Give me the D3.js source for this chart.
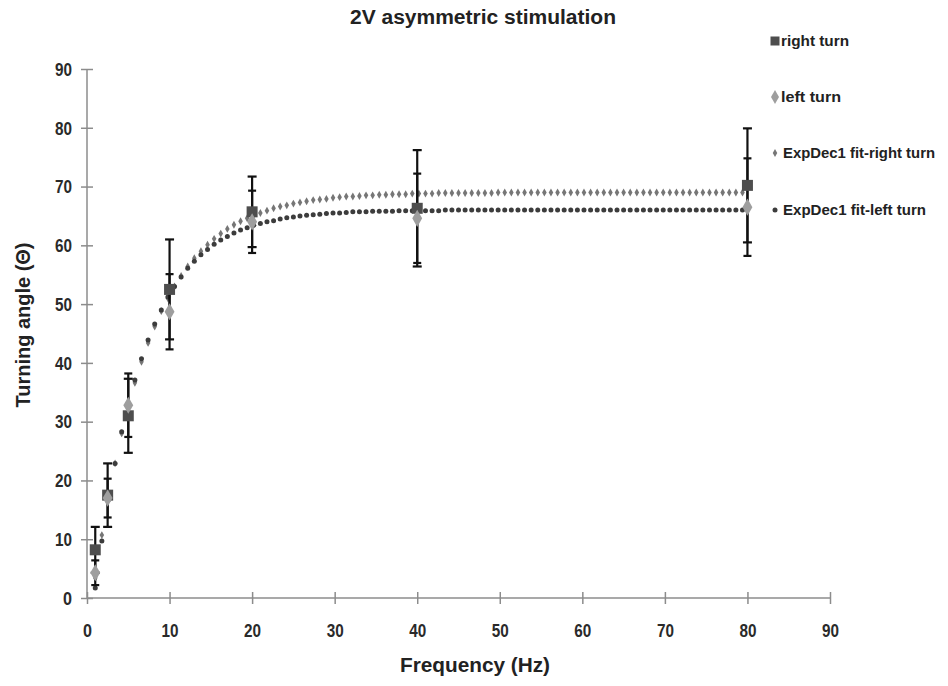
<html>
<head>
  <meta charset="utf-8">
  <script src="https://d3js.org/d3.v7.min.js"></script>
  <style>
    body { margin: 0; background: #fff; }
    text { font-family: "Liberation Sans", "Arial", sans-serif; font-weight: bold; fill: #222; }
    .axis path, .axis line { stroke: #8c8c8c; stroke-width: 1.5; }
    .axis text { font-size: 18px; fill: #2a2a2a; }
  </style>
</head>
<body>
<div id="chart"></div>
<script>
// measured points
var freq = [1, 2.5, 5, 10, 20, 40, 80];
var rightTurn = [8.2, 17.5, 31.0, 52.5, 65.7, 66.3, 70.2];
var rightErr  = [3.9, 5.4, 6.3, 8.5, 6.0, 9.9, 9.7];
var leftTurn  = [4.3, 17.0, 32.8, 48.7, 64.0, 64.6, 66.5];
var leftErr   = [2.1, 3.3, 5.4, 6.4, 5.3, 7.6, 8.3];

// ExpDec1 fit curves
var fitX = [1.0, 1.8, 2.6, 3.4, 4.2, 5.0, 5.8, 6.6, 7.4, 8.2, 9.0, 9.8, 10.6, 11.4, 12.2, 13.0, 13.8, 14.6, 15.4, 16.2,
  17.0, 17.8, 18.6, 19.4, 20.2, 21.0, 21.8, 22.6, 23.4, 24.2, 25.0, 25.8, 26.6, 27.4, 28.2, 29.0, 29.8, 30.6, 31.4, 32.2,
  33.0, 33.8, 34.6, 35.4, 36.2, 37.0, 37.8, 38.6, 39.4, 40.2, 41.0, 41.8, 42.6, 43.4, 44.2, 45.0, 45.8, 46.6, 47.4, 48.2,
  49.0, 49.8, 50.6, 51.4, 52.2, 53.0, 53.8, 54.6, 55.4, 56.2, 57.0, 57.8, 58.6, 59.4, 60.2, 61.0, 61.8, 62.6, 63.4, 64.2,
  65.0, 65.8, 66.6, 67.4, 68.2, 69.0, 69.8, 70.6, 71.4, 72.2, 73.0, 73.8, 74.6, 75.4, 76.2, 77.0, 77.8, 78.6, 79.4];
var fitRight = [3.4, 10.7, 17.1, 22.9, 28.0, 32.6, 36.6, 40.2, 43.4, 46.2, 48.8, 51.0, 53.0, 54.8, 56.4, 57.8, 59.0, 60.1, 61.1, 62.0,
  62.8, 63.5, 64.1, 64.6, 65.1, 65.5, 65.9, 66.3, 66.6, 66.8, 67.1, 67.3, 67.5, 67.7, 67.8, 67.9, 68.1, 68.2, 68.3, 68.3,
  68.4, 68.5, 68.5, 68.6, 68.6, 68.7, 68.7, 68.7, 68.8, 68.8, 68.8, 68.8, 68.9, 68.9, 68.9, 68.9, 68.9, 68.9, 68.9, 68.9,
  68.9, 69.0, 69.0, 69.0, 69.0, 69.0, 69.0, 69.0, 69.0, 69.0, 69.0, 69.0, 69.0, 69.0, 69.0, 69.0, 69.0, 69.0, 69.0, 69.0,
  69.0, 69.0, 69.0, 69.0, 69.0, 69.0, 69.0, 69.0, 69.0, 69.0, 69.0, 69.0, 69.0, 69.0, 69.0, 69.0, 69.0, 69.0, 69.0];
var fitLeft = [1.7, 9.7, 16.7, 22.9, 28.3, 33.0, 37.1, 40.7, 43.9, 46.6, 49.0, 51.2, 53.0, 54.6, 56.1, 57.3, 58.4, 59.3, 60.2, 60.9,
  61.5, 62.1, 62.6, 63.0, 63.4, 63.7, 64.0, 64.2, 64.5, 64.7, 64.8, 65.0, 65.1, 65.2, 65.3, 65.4, 65.5, 65.5, 65.6, 65.7,
  65.7, 65.7, 65.8, 65.8, 65.8, 65.8, 65.9, 65.9, 65.9, 65.9, 65.9, 65.9, 65.9, 66.0, 66.0, 66.0, 66.0, 66.0, 66.0, 66.0,
  66.0, 66.0, 66.0, 66.0, 66.0, 66.0, 66.0, 66.0, 66.0, 66.0, 66.0, 66.0, 66.0, 66.0, 66.0, 66.0, 66.0, 66.0, 66.0, 66.0,
  66.0, 66.0, 66.0, 66.0, 66.0, 66.0, 66.0, 66.0, 66.0, 66.0, 66.0, 66.0, 66.0, 66.0, 66.0, 66.0, 66.0, 66.0, 66.0];

var xTicks = [0, 10, 20, 30, 40, 50, 60, 70, 80, 90];
var yTicks = [0, 10, 20, 30, 40, 50, 60, 70, 80, 90];

var svg = d3.select('#chart').append('svg').attr('width', 948).attr('height', 686);

var x = d3.scaleLinear().domain([0, 90]).range([87, 830]);
var y = d3.scaleLinear().domain([0, 90]).range([598, 69]);

// axes, ticks cross the axis line
var gx = svg.append('g').attr('class', 'axis').attr('transform', 'translate(0,' + y(0) + ')')
  .call(d3.axisBottom(x).tickValues(xTicks).tickSize(6).tickPadding(20));
gx.selectAll('.tick line').attr('y1', -6).attr('y2', 6);
gx.select('.domain').attr('d', 'M' + x(0) + ',0H' + x(90));
gx.selectAll('.tick text').attr('textLength', function(d) { return d ? 17 : 9; }).attr('lengthAdjust', 'spacingAndGlyphs');

var gy = svg.append('g').attr('class', 'axis').attr('transform', 'translate(' + x(0) + ',0)')
  .call(d3.axisLeft(y).tickValues(yTicks).tickSize(6).tickPadding(9));
gy.selectAll('.tick line').attr('x1', -6).attr('x2', 6);
gy.select('.domain').attr('d', 'M0,' + y(90) + 'V' + y(0));
gy.selectAll('.tick text').attr('dy', '0.35em')
  .attr('textLength', function(d) { return d ? 17 : 9; }).attr('lengthAdjust', 'spacingAndGlyphs');

// fit dots
var fitR = fitX.map(function(d, i) { return [d, fitRight[i]]; });
var fitL = fitX.map(function(d, i) { return [d, fitLeft[i]]; });

svg.append('g').selectAll('path').data(fitR).enter().append('path')
  .attr('d', d3.symbol().type(d3.symbolDiamond).size(18))
  .attr('transform', function(d) { return 'translate(' + x(d[0]) + ',' + y(d[1]) + ')'; })
  .attr('fill', '#767676');

svg.append('g').selectAll('circle').data(fitL).enter().append('circle')
  .attr('cx', function(d) { return x(d[0]); })
  .attr('cy', function(d) { return y(d[1]); })
  .attr('r', 2.5)
  .attr('fill', '#3c3c3c');

// error bars
function errorBars(vals, errs, cap) {
  var g = svg.append('g').attr('stroke', '#111').attr('stroke-width', 2.2);
  freq.forEach(function(f, i) {
    var cx = x(f), lo = y(vals[i] - errs[i]), hi = y(vals[i] + errs[i]);
    g.append('line').attr('x1', cx).attr('x2', cx).attr('y1', lo).attr('y2', hi);
    g.append('line').attr('x1', cx - cap).attr('x2', cx + cap).attr('y1', lo).attr('y2', lo);
    g.append('line').attr('x1', cx - cap).attr('x2', cx + cap).attr('y1', hi).attr('y2', hi);
  });
}
errorBars(rightTurn, rightErr, 4.5);
errorBars(leftTurn, leftErr, 4);

// markers
svg.append('g').selectAll('rect').data(rightTurn).enter().append('rect')
  .attr('x', function(d, i) { return x(freq[i]) - 5.5; })
  .attr('y', function(d) { return y(d) - 5.5; })
  .attr('width', 11).attr('height', 11)
  .attr('fill', '#4e4e4e');

svg.append('g').selectAll('path').data(leftTurn).enter().append('path')
  .attr('d', d3.symbol().type(d3.symbolDiamond).size(85))
  .attr('transform', function(d, i) { return 'translate(' + x(freq[i]) + ',' + y(d) + ')'; })
  .attr('fill', '#9e9e9e');

// titles (narrow bold type in the original, squeezed with textLength)
svg.append('text').attr('x', 483).attr('y', 24).attr('text-anchor', 'middle')
  .attr('textLength', 266).attr('lengthAdjust', 'spacingAndGlyphs')
  .style('font-size', '20px').text('2V asymmetric stimulation');
svg.append('text').attr('x', 475).attr('y', 672).attr('text-anchor', 'middle')
  .attr('textLength', 150).attr('lengthAdjust', 'spacingAndGlyphs')
  .style('font-size', '21px').text('Frequency (Hz)');
svg.append('text').attr('transform', 'translate(30,325) rotate(-90)').attr('text-anchor', 'middle')
  .attr('textLength', 165).attr('lengthAdjust', 'spacingAndGlyphs')
  .style('font-size', '21px').text('Turning angle (\u0398)');

// legend
var legend = [
  { name: 'right turn', y: 41, type: 'square', w: 68 },
  { name: 'left turn', y: 97, type: 'diamond', w: 60 },
  { name: 'ExpDec1 fit-right turn', y: 153, type: 'fitR', w: 152 },
  { name: 'ExpDec1 fit-left turn', y: 210, type: 'fitL', w: 143 }
];
var lg = svg.append('g').selectAll('g').data(legend).enter().append('g')
  .attr('transform', function(d) { return 'translate(775,' + d.y + ')'; });
lg.each(function(d) {
  var g = d3.select(this);
  if (d.type == 'square') g.append('rect').attr('x', -4.5).attr('y', -4.5).attr('width', 9).attr('height', 9).attr('fill', '#4e4e4e');
  if (d.type == 'diamond') g.append('path').attr('d', d3.symbol().type(d3.symbolDiamond).size(55)).attr('fill', '#9e9e9e');
  if (d.type == 'fitR') g.append('path').attr('d', d3.symbol().type(d3.symbolDiamond).size(18)).attr('fill', '#767676');
  if (d.type == 'fitL') g.append('circle').attr('r', 2.5).attr('fill', '#3c3c3c');
});
lg.append('text').attr('x', function(d) { return d.type == 'square' || d.type == 'diamond' ? 6 : 8; })
  .attr('dy', '0.36em').style('font-size', '15px')
  .attr('textLength', function(d) { return d.w; }).attr('lengthAdjust', 'spacingAndGlyphs')
  .text(function(d) { return d.name; });
</script>
</body>
</html>
